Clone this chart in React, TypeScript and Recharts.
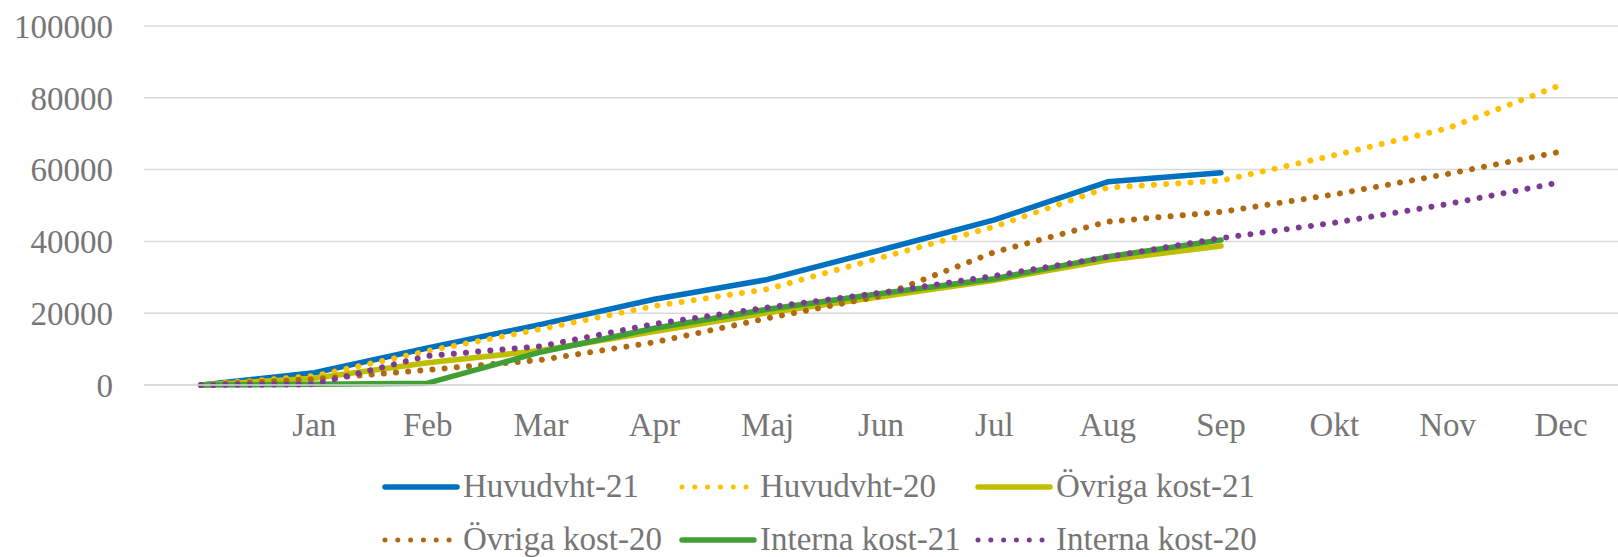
import React from "react";
import { LineChart, Line, XAxis, YAxis, CartesianGrid, Legend } from "recharts";

const months = ["", "Jan", "Feb", "Mar", "Apr", "Maj", "Jun", "Jul", "Aug", "Sep", "Okt", "Nov", "Dec"];
const huvudvht21 = [0, 3400, 10300, 16900, 23900, 29400, 37600, 46000, 56600, 59100, null, null, null];
const huvudvht20 = [0, 2500, 9500, 15600, 22000, 26700, 35500, 44100, 55000, 56900, 64000, 71500, 83600];
const ovrigaKost21 = [0, 1900, 6200, 9600, 14900, 20100, 24600, 29200, 34800, 38700, null, null, null];
const ovrigaKost20 = [0, 1600, 4200, 7000, 11900, 18600, 24800, 37000, 45500, 48200, 53100, 58800, 65000];
const internaKost21 = [0, 200, 500, 9200, 15800, 21100, 25500, 29600, 35700, 40400, null, null, null];
const internaKost20 = [0, 200, 8100, 10800, 17000, 21600, 25700, 30400, 35700, 40900, 45200, 50400, 56500];
const yTicks = [0, 20000, 40000, 60000, 80000, 100000];

const series = [
  { key: "Huvudvht-21", values: huvudvht21, color: "#0070C0", dotted: false },
  { key: "Huvudvht-20", values: huvudvht20, color: "#FFC000", dotted: true },
  { key: "Övriga kost-21", values: ovrigaKost21, color: "#BFBF00", dotted: false },
  { key: "Övriga kost-20", values: ovrigaKost20, color: "#B0690F", dotted: true },
  { key: "Interna kost-21", values: internaKost21, color: "#40A035", dotted: false },
  { key: "Interna kost-20", values: internaKost20, color: "#7D3A92", dotted: true },
];

const data = months.map((m, i) => {
  const row: Record<string, any> = { month: m };
  series.forEach((s) => {
    row[s.key] = s.values[i];
  });
  return row;
});

const FONT = "'Liberation Serif', 'DejaVu Serif', serif";
const TEXT = "#767676";
const DOTS = "0.01 12.2";

const LegendContent = () => {
  const cols = [15, 312, 608];
  const rows = [
    { line: 27, base: 37 },
    { line: 80, base: 90 },
  ];
  return (
    <svg width={920} height={97} style={{ display: "block" }}>
      {series.map((s, i) => {
        const c = cols[i % 3];
        const r = rows[Math.floor(i / 3)];
        return (
          <g key={s.key}>
            <line
              x1={c}
              x2={s.dotted ? c + 68 : c + 72}
              y1={r.line}
              y2={r.line}
              stroke={s.color}
              strokeWidth={s.dotted ? 5 : 5.5}
              strokeLinecap="round"
              strokeDasharray={s.dotted ? "0.01 12.8" : undefined}
            />
            <text x={c + 78} y={r.base} fontFamily={FONT} fontSize={33} fill={TEXT}>
              {s.key}
            </text>
          </g>
        );
      })}
    </svg>
  );
};

export default function App() {
  return (
    <div style={{ position: "absolute", left: 0, top: 0, width: 1618, height: 557, background: "#fff" }}>
      <LineChart width={1618} height={557} data={data} margin={{ top: 26, right: 0, bottom: 112, left: 0 }}>
        <CartesianGrid vertical={false} stroke="#D9D9D9" strokeWidth={1.5} />
        <XAxis
          dataKey="month"
          interval={0}
          tickLine={false}
          axisLine={{ stroke: "#D9D9D9", strokeWidth: 1.5 }}
          padding={{ left: 57, right: 57 }}
          tickMargin={22}
          height={60}
          tick={{ fill: TEXT, fontSize: 33, fontFamily: FONT }}
        />
        <YAxis
          width={144}
          domain={[0, 100000]}
          ticks={yTicks}
          tickLine={false}
          axisLine={false}
          tickMargin={25}
          tick={{ fill: TEXT, fontSize: 33, fontFamily: FONT }}
        />
        <Legend
          layout="horizontal"
          verticalAlign="middle"
          align="center"
          content={<LegendContent />}
          wrapperStyle={{ position: "absolute", left: 370, top: 460, width: 920, height: 97 }}
        />
        {series.map((s) => (
          <Line
            key={s.key}
            type="linear"
            dataKey={s.key}
            stroke={s.color}
            strokeWidth={s.dotted ? 6 : 5.5}
            strokeLinecap="round"
            strokeLinejoin="round"
            strokeDasharray={s.dotted ? DOTS : undefined}
            dot={false}
            activeDot={false}
            legendType="none"
            isAnimationActive={false}
          />
        ))}
      </LineChart>
    </div>
  );
}
